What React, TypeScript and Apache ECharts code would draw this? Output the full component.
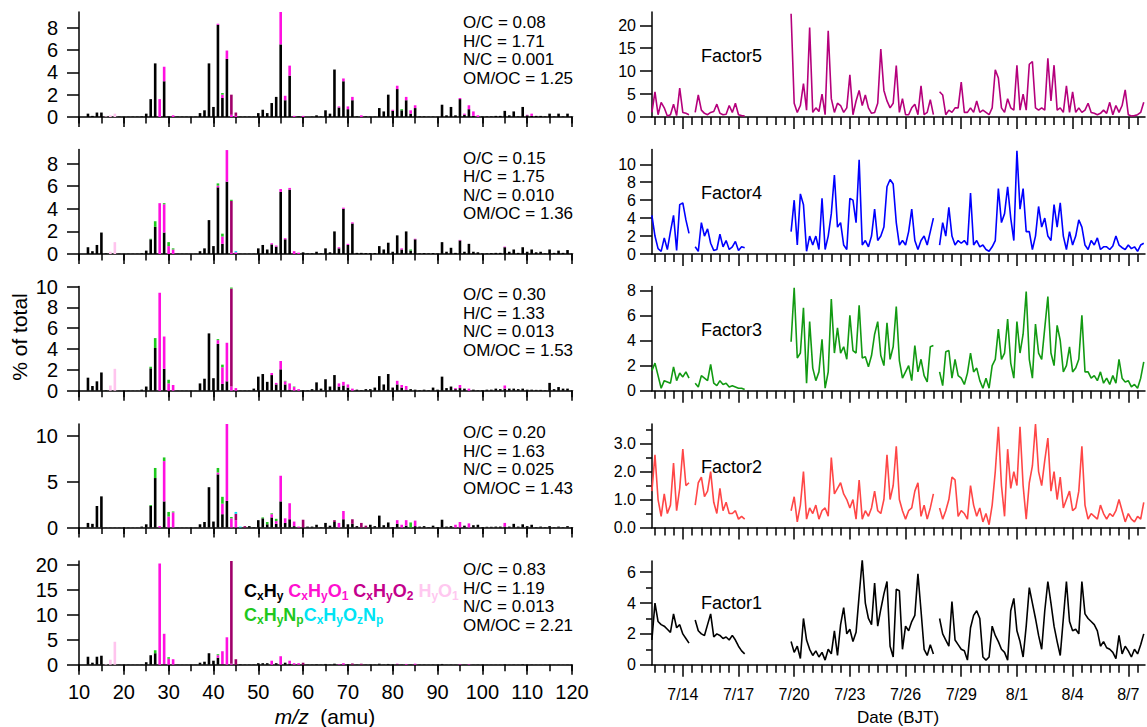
import React, { useEffect, useRef } from 'react';
import * as echarts from 'echarts';

const FONT = "'Liberation Sans', Arial, Helvetica, sans-serif";

// ---------- mass spectra (left column) ----------
const FAMILIES = ['CxHy', 'CxHyO1', 'CxHyO2', 'HyO1', 'CxHyNp', 'CxHyOzNp'];
const FAMILY_COLORS = ['#000000', '#ff10e0', '#a0006a', '#ffc4ee', '#1ec81e', '#00e4f4'];
const LEGEND_COLORS = ['#000000', '#ff10d0', '#c4008c', '#ffc8f0', '#1ec81e', '#00e4f4'];

// rows: [m/z, CxHy, CxHyO1, CxHyO2, HyO1, CxHyNp, CxHyOzNp]
const P1_ROWS = [[12,0.3],[13,0.1],[14,0.4],[15,0.4],[16,0,0,0,0.05],[17,0,0,0,0.15],[18,0,0,0,0.3],[19,0.03],[20,0.03],[21,0.03],[22,0.03],[23,0.03],[24,0.05],[25,0.3],[26,1.6],[27,4.8],[28,0,1.6],[29,3.2,1.3],[30,0.05],[31,0,0.15],[32,0.03],[33,0.03],[34,0.03],[35,0.03],[36,0.03],[37,0.35],[38,0.6],[39,4.8],[40,0.9],[41,8.25,0.1],[42,1.7,0.3,0,0,0.15],[43,5.2,0.75],[44,0,0.2,1.8],[45,0,0.1,0.3],[46,0.03],[47,0.03],[48,0.03],[49,0.03],[50,0.35],[51,0.65],[52,0.35],[53,1.25],[54,1.8],[55,6.5,2.9],[56,1.5,0.4],[57,3.7,0.9],[58,0,0.1],[59,0.05],[60,0,0.1],[62,0.03],[63,0.15],[64,0.05],[65,0.6],[66,0.3],[67,4.25],[68,0.85,0.1],[69,3.2,0.25],[70,0.7,0.25],[71,1.5,0.3],[72,0.05],[73,0,0.15],[74,0.05],[75,0.03],[76,0.03],[77,0.8],[78,0.5],[79,2.0],[80,0.55,0.1],[81,2.5,0.3],[82,0.6,0,0,0,0.1],[83,1.5,0.3],[84,0.3,0.3],[85,0.8,0.25],[86,0.05],[87,0.05],[88,0.03],[89,0.03],[90,0.03],[91,1.1],[92,0.15],[93,0.9],[94,0.15],[95,1.6,0.1],[96,0.2,0.1],[97,0.7,0.35],[98,0.1,0.4],[99,0,0.15],[100,0.05],[101,0.05],[102,0.05],[103,0.1],[104,0.1],[105,0.55],[106,0.15],[107,0.5],[108,0.05],[109,0.9],[110,0.15,0.05],[111,0.1,0.2],[112,0.1],[113,0.1],[114,0.05],[115,0.3],[116,0.05],[117,0.3],[118,0.05],[119,0.3],[120,0.05]];
const P2_ROWS = [[12,0.6],[13,0.25],[14,0.8],[15,1.9],[16,0.05],[17,0,0,0,0.2],[18,0,0,0,1.05],[19,0.02],[20,0.02],[21,0.02],[22,0.02],[23,0.02],[24,0.05],[25,0.3],[26,1.3,0,0,0,0.05],[27,2.4,0,0,0,0.5],[28,0,4.5],[29,1.9,2.5,0,0,0.1],[30,0,0.7,0,0,0.35],[31,0,0.4,0,0,0.1],[32,0.02],[33,0.02],[34,0.02],[35,0.02],[36,0.02],[37,0.25],[38,0.5],[39,3.0],[40,0.7],[41,5.9,0.15,0,0,0.2],[42,0.9,0.65,0,0,0.25],[43,6.4,2.8],[44,0,0.1,4.6,0,0.1],[45,0,0.15,0,0,0,0.1],[46,0.02],[47,0.02],[48,0.02],[49,0.02],[50,0.5],[51,0.8],[52,0.4],[53,0.85,0.1],[54,0.65,0.1],[55,5.5,0.25],[56,1.3,0.1],[57,5.7,0.15],[58,0,0.25],[59,0,0.12],[60,0.15],[61,0.05],[62,0.05],[63,0.2],[64,0.05],[65,0.5],[66,0.15],[67,2.0],[68,0.5,0.1],[69,4.0,0.1],[70,0.8,0.1],[71,2.7,0.1],[72,0.1],[73,0.1],[74,0.08],[75,0.08],[76,0.08],[77,0.7],[78,0.4],[79,1.0],[80,0.2],[81,1.65],[82,0.4,0.1],[83,2.0],[84,0.3,0,0,0,0.1],[85,1.3,0.05],[86,0.05],[87,0.08],[88,0.05],[89,0.08],[90,0.05],[91,1.05],[92,0.2],[93,0.55],[94,0.1],[95,1.2,0.05],[96,0.2],[97,0.9],[98,0.2],[99,0.15],[100,0.05],[101,0.05],[102,0.08],[103,0.1],[104,0.1],[105,0.6,0.05],[106,0.2],[107,0.4],[108,0.1],[109,0.6],[110,0.2],[111,0.4],[112,0.15],[113,0.2],[114,0.05],[115,0.4],[116,0.1],[117,0.3],[118,0.1],[119,0.35],[120,0.05]];
const P3_ROWS = [[12,1.25],[13,0.45],[14,0.9],[15,1.75],[16,0.05],[17,0,0,0,0.5],[18,0,0,0,2.1],[19,0.02],[20,0.02],[21,0.02],[22,0.02],[23,0.02],[24,0.1],[25,0.4],[26,2.15,0,0,0,0.15],[27,4.1,0,0,0,0.95],[28,0,9.4],[29,2.1,3.1],[30,0,0.7,0,0,0.35],[31,0,0.55],[32,0.02],[33,0.02],[34,0.02],[35,0.02],[36,0.02],[37,0.7],[38,1.15],[39,5.5],[40,1.2],[41,4.5,0.35,0,0,0.1],[42,0.65,1.6,0,0,0.25],[43,0.9,3.7],[44,0,0.4,9.4,0,0.1],[45,0,0.25],[46,0.03],[47,0.03],[48,0.03],[49,0.2],[50,1.35],[51,1.6],[52,0.85],[53,1.5,0.2],[54,0.6,0.15],[55,2.05,0.8],[56,0.6,0.3,0,0,0.05],[57,0.1,0.6],[58,0,0.35,0,0,0.05],[59,0,0.15],[60,0.05],[61,0.05],[62,0.15],[63,0.8],[64,0.2],[65,1.1],[66,0.4],[67,1.5],[68,0.4,0.3],[69,0.5,0.35],[70,0.3,0.3],[71,0,0.2],[72,0.1],[73,0.05],[74,0.15],[75,0.15],[76,0.3],[77,1.4],[78,0.6],[79,1.6],[80,0.3],[81,0.6,0.35],[82,0.3,0.25],[83,0.1,0.35],[84,0.15],[85,0.1],[86,0.05],[87,0.1],[88,0.05],[89,0.3],[90,0.1],[91,1.35],[92,0.25],[93,0.4],[94,0.15,0.1],[95,0.25,0.3],[96,0.2],[97,0,0.2],[98,0.1],[99,0.05],[100,0.05],[101,0.1],[102,0.1],[103,0.2],[104,0.15],[105,0.2,0.3],[106,0.2],[107,0.2],[108,0.15],[109,0.2],[110,0.1],[111,0.1],[112,0.08],[113,0.08],[114,0.05],[115,0.75],[116,0.15],[117,0.35],[118,0.2],[119,0.2],[120,0.05]];
const P4_ROWS = [[12,0.5],[13,0.4],[14,2.35],[15,3.4],[16,0.02],[17,0.02],[18,0.02],[19,0.02],[20,0.02],[21,0.02],[22,0.02],[23,0.02],[24,0.1],[25,0.35],[26,2.35,0,0,0,0.1],[27,5.4,0,0,0,1.1],[28,0,0.15],[29,2.85,4.4,0,0,0.4],[30,0,1.2,0,0,0.5],[31,0,1.65,0,0,0.1],[32,0.02],[33,0.02],[34,0.02],[35,0.02],[36,0.02],[37,0.35],[38,0.6],[39,4.4],[40,0.65],[41,5.8,0.2,0,0,0.5],[42,1.45,1.15,0,0,0.75],[43,2.9,8.6],[44,0,1.0,0,0,0.15],[45,0,0.8,0.7,0,0,0.2],[46,0,0,0,0,0,0.1],[47,0,0,0.15],[48,0.15],[49,0.05],[50,0.8],[51,1.0,0,0,0,0.1],[52,0.35,0,0,0,0.25],[53,1.1,0.35,0,0,0.1],[54,0.4,0.3,0,0,0.25],[55,2.85,2.8],[56,0.5,0.5],[57,0.9,1.75],[58,0.15,0.5],[59,0,0.1],[60,0,0,0.85],[61,0.1],[62,0.1],[63,0.3],[64,0.05],[65,0.5],[66,0.2],[67,0.6,0,0.2],[68,0,0.5],[69,0.9,0.9],[70,0.35],[71,0.4,0,0.5],[72,0.15],[73,0,0,0.5],[74,0,0,0.2],[75,0.3],[76,0.15],[77,1.3],[78,0.25],[79,0.55],[80,0.05],[81,0.4,0.4],[82,0,0.3],[83,0.2,0.6],[84,0,0,0,0,0.55],[85,0.15,0.6],[86,0.1],[87,0.15],[88,0.05],[89,0.2],[90,0.05],[91,0.85],[92,0.1],[93,0.15],[94,0,0.3],[95,0,0.6],[96,0.2],[97,0,0.45],[98,0.25],[99,0.3],[100,0.05],[101,0.08],[102,0.08],[103,0.1],[104,0.1],[105,0.1,0.4],[106,0.1],[107,0.4],[108,0.1],[109,0.35],[110,0.15],[111,0.3],[112,0.05],[113,0.1],[114,0.05],[115,0.15],[116,0.05],[117,0.1],[118,0.05],[119,0.15],[120,0.05]];
const P5_ROWS = [[12,1.6],[13,0.4],[14,1.6],[15,1.8],[16,0,0,0,0.1],[17,0,0,0,1.0],[18,0,0,0,4.6],[19,0.03],[20,0.03],[21,0.03],[22,0.03],[23,0.03],[24,0.05],[25,0.5],[26,1.9],[27,2.3,0,0,0,0.6],[28,0,20.3],[29,0.1,6.1],[30,0,1.2,0,0,0.3],[31,0,1.1],[32,0.03],[33,0.03],[34,0.03],[35,0.03],[36,0.03],[37,0.4],[38,0.6],[39,2.3],[40,0.8],[41,1.4,0.5,0,0,0.2],[42,0.1,2.6],[43,0,5.5],[44,0,0.2,20.8],[45,0,0,1.1],[46,0.1],[47,0.05],[48,0.05],[49,0.05],[50,0.3],[51,0.3],[52,0.3],[53,0,0.8],[54,0.3],[55,0,1.7],[56,0.4],[57,0.2,0.6],[58,0,0.3],[59,0,0.3],[60,0,0,0.4],[61,0.05],[62,0.05],[63,0.1],[64,0.05],[65,0.15],[66,0.05],[67,0.2],[68,0,0.1],[69,0,0.3],[70,0.1],[71,0,0,0.25],[72,0.05],[73,0,0,0.2],[74,0.05],[75,0.05],[76,0.05],[77,0.2],[78,0.05],[79,0.15],[80,0.05],[81,0.1,0.1],[82,0.05],[83,0,0.15],[84,0.05],[85,0,0.2],[86,0.05],[87,0.05],[88,0.03],[89,0.05],[90,0.03],[91,0.15],[92,0.03],[93,0.05],[94,0.03],[95,0,0.1],[96,0.03],[97,0,0.1],[98,0.03],[99,0.05],[100,0.03],[101,0.03],[102,0.03],[103,0.03],[104,0.03],[105,0.1],[106,0.03],[107,0.05],[108,0.03],[109,0.1],[110,0.03],[111,0.05],[112,0.03],[113,0.03],[114,0.03],[115,0.05],[116,0.03],[117,0.05],[118,0.03],[119,0.05],[120,0.03]];
const PANEL_ROWS = [P1_ROWS, P2_ROWS, P3_ROWS, P4_ROWS, P5_ROWS];
const PANEL_YMAX = [9.4, 9.25, 10.0, 11.3, 20.8];
const PANEL_YTICKS = [[0, 2, 4, 6, 8], [0, 2, 4, 6, 8], [0, 2, 4, 6, 8, 10], [0, 5, 10], [0, 5, 10, 15, 20]];
const PANEL_RATIOS = [
  ['O/C = 0.08', 'H/C = 1.71', 'N/C = 0.001', 'OM/OC = 1.25'],
  ['O/C = 0.15', 'H/C = 1.75', 'N/C = 0.010', 'OM/OC = 1.36'],
  ['O/C = 0.30', 'H/C = 1.33', 'N/C = 0.013', 'OM/OC = 1.53'],
  ['O/C = 0.20', 'H/C = 1.63', 'N/C = 0.025', 'OM/OC = 1.43'],
  ['O/C = 0.83', 'H/C = 1.19', 'N/C = 0.013', 'OM/OC = 2.21'],
];
const MZ_MIN = 10;
const MZ_MAX = 120;

// ---------- factor time series (right column) ----------
// time in days since 7/12 00:00 (BJT), 4-hour points
const STEP = 1 / 6;
const SEG_A_START = 1 / 3;   // 7/12 08:00
const SEG_B_START = 8 / 3;   // 7/14 16:00
const SEG_C_START = 47 / 6;  // 7/19 20:00

const F5_A = [1.0, 5.5, 0.5, 3.2, 2.0, 0.2, 0.5, 2.8, 0.3, 6.3, 1.0, 0.8, 0.5];
const F5_B = [1.0, 4.8, 1.5, 0.8, 0.5, 1.0, 1.2, 2.8, 0.8, 0.5, 0.6, 2.5, 1.0, 3.0, 0.5, 0.3, 0.2];
const F5_C = [22.5, 3.0, 1.0, 2.5, 7.3, 1.5, 19.5, 1.0, 2.0, 1.2, 5.0, 0.5, 18.8, 4.0, 1.0, 3.0, 2.5, 1.0, 2.0, 9.2, 0.5, 3.5, 5.8, 2.5, 4.8, 2.0, 0.8, 1.0, 3.0, 14.8, 5.8, 3.5, 2.0, 3.0, 11.2, 1.0, 4.0, 0.5, 0.5, 2.0, 2.8, 0.5, 6.8, 0.5, 1.0, 3.8, 0.5, null, 5.5, 4.8, 0.5, 1.5, 1.0, 2.0, 2.0, 7.6, 1.0, 1.0, 2.0, 1.0, 3.5, 1.0, 1.5, 1.0, 0.5, 2.0, 10.3, 8.5, 2.0, 1.0, 4.0, 2.0, 1.5, 11.3, 1.5, 5.0, 1.5, 11.5, 12.1, 2.0, 1.5, 2.0, 1.5, 12.8, 3.5, 11.3, 1.5, 2.0, 1.0, 6.8, 1.0, 5.5, 1.0, 2.0, 1.0, 1.5, 3.0, 1.0, 0.8, 0.5, 0.8, 1.5, 0.8, 3.2, 0.5, 2.5, 1.0, 2.5, 5.9, 0.5, 0.2, 0.3, 0.5, 1.0, 3.2];
const F4_A = [4.3, 2.0, 0.6, 0.3, 1.8, 0.5, 2.5, 4.3, 0.4, 5.5, 5.7, 3.8, 2.3];
const F4_B = [0.8, 0.3, 3.5, 2.0, 2.8, 1.2, 0.4, 0.5, 2.2, 0.8, 1.5, 0.5, 0.8, 1.4, 0.4, 0.8, 0.7];
const F4_C = [2.5, 6.0, 1.0, 6.7, 5.5, 0.3, 2.0, 1.0, 2.0, 0.5, 6.2, 0.5, 2.0, 4.5, 8.8, 3.0, 3.5, 1.0, 0.5, 6.2, 6.0, 3.5, 10.5, 1.0, 1.5, 0.8, 2.0, 5.0, 1.5, 2.0, 3.0, 7.5, 8.3, 7.8, 3.5, 1.0, 1.5, 1.0, 2.5, 5.0, 1.5, 0.5, 1.5, 2.0, 1.0, 2.5, 4.0, null, 1.0, 3.5, 2.0, 5.2, 2.0, 1.0, 1.5, 1.2, 1.5, 1.0, 6.8, 1.0, 1.5, 0.8, 1.0, 0.5, 0.3, 0.8, 1.5, 7.3, 3.5, 4.5, 7.5, 4.0, 1.5, 11.5, 5.0, 7.3, 2.5, 2.5, 0.5, 2.0, 5.3, 3.0, 4.0, 2.0, 1.5, 5.5, 3.0, 5.7, 2.0, 0.5, 2.5, 1.0, 2.0, 3.8, 3.0, 1.0, 0.5, 1.5, 1.0, 1.8, 0.5, 0.8, 0.8, 0.5, 0.9, 2.0, 1.0, 0.7, 0.5, 1.0, 0.6, 0.8, 0.3, 1.0, 1.2];
const F3_A = [1.6, 2.2, 1.2, 0.2, 0.8, 0.7, 0.6, 1.9, 0.8, 1.4, 1.1, 1.5, 1.0];
const F3_B = [0.6, 0.3, 1.2, 1.0, 0.8, 2.1, 0.6, 0.4, 0.8, 0.5, 0.6, 0.3, 0.4, 0.3, 0.2, 0.2, 0.1];
const F3_C = [3.9, 8.2, 2.6, 3.0, 6.6, 0.6, 5.5, 1.8, 0.8, 1.5, 4.1, 0.2, 1.5, 7.3, 3.0, 5.0, 3.0, 3.5, 2.5, 6.0, 3.2, 3.0, 6.8, 2.6, 2.7, 1.9, 2.8, 4.5, 5.5, 2.8, 2.0, 5.4, 2.5, 3.5, 6.7, 2.4, 1.0, 1.5, 2.0, 0.8, 3.6, 1.5, 2.5, 1.2, 0.7, 3.5, 3.6, null, 1.5, 0.4, 3.1, 3.2, 1.0, 2.5, 1.2, 1.0, 0.5, 1.4, 3.0, 1.5, 1.8, 0.8, 0.2, 1.0, 0.2, 2.0, 2.5, 4.9, 2.5, 3.0, 5.7, 2.2, 1.0, 5.5, 3.0, 4.5, 7.9, 2.5, 1.0, 5.3, 3.0, 2.5, 5.0, 7.5, 3.0, 2.0, 5.2, 4.0, 1.5, 2.0, 3.5, 1.5, 1.8, 2.5, 6.0, 1.5, 1.5, 1.0, 1.2, 0.8, 1.5, 0.6, 1.0, 0.5, 1.2, 0.6, 2.5, 1.0, 0.7, 0.8, 0.3, 0.5, 0.2, 1.0, 2.3];
const F2_A = [1.3, 2.6, 1.0, 0.4, 1.2, 0.5, 0.8, 2.3, 0.6, 1.4, 2.8, 1.5, 1.6];
const F2_B = [0.8, 1.6, 1.8, 1.1, 1.3, 2.0, 0.9, 0.5, 1.4, 0.6, 0.9, 0.5, 0.5, 0.6, 0.3, 0.4, 0.3];
const F2_C = [0.6, 1.1, 0.2, 0.8, 2.0, 0.3, 0.7, 0.5, 0.8, 0.3, 0.6, 0.7, 0.4, 2.5, 1.2, 1.4, 1.6, 1.2, 1.0, 0.7, 1.0, 0.3, 1.7, 0.3, 0.6, 0.4, 0.7, 1.3, 0.6, 0.5, 1.0, 2.6, 1.0, 1.5, 2.9, 1.0, 0.6, 0.3, 0.6, 0.7, 1.3, 1.6, 0.4, 0.8, 0.3, 0.7, 1.2, null, 0.7, 0.3, 0.6, 1.0, 1.8, 1.7, 0.4, 0.6, 0.5, 0.3, 1.5, 0.8, 0.4, 0.7, 0.2, 0.5, 0.1, 0.8, 2.0, 3.6, 1.5, 0.4, 2.8, 1.4, 2.0, 1.5, 3.6, 1.5, 0.3, 1.6, 2.2, 3.7, 2.0, 1.5, 2.4, 3.2, 1.3, 2.0, 1.0, 1.8, 0.7, 1.0, 1.3, 0.6, 0.7, 1.3, 2.9, 0.8, 0.3, 0.5, 0.4, 0.3, 0.8, 0.5, 0.3, 0.5, 0.4, 0.6, 1.0, 0.6, 0.2, 0.5, 0.3, 0.2, 0.4, 0.3, 0.9];
const F1_A = [1.6, 4.0, 2.8, 2.6, 2.5, 2.3, 2.1, 3.3, 2.4, 2.6, 2.0, 1.7, 1.4];
const F1_B = [2.9, 2.2, 2.0, 1.9, 2.6, 3.3, 1.8, 2.0, 1.9, 1.7, 1.8, 1.6, 1.9, 1.6, 1.2, 0.9, 0.7];
const F1_C = [1.5, 0.8, 1.2, 0.4, 3.0, 1.6, 1.0, 0.6, 0.9, 0.5, 0.8, 0.3, 1.0, 0.7, 2.2, 0.6, 2.6, 3.7, 2.0, 2.3, 1.5, 2.1, 4.5, 6.8, 4.0, 3.0, 2.6, 5.3, 2.5, 3.6, 4.6, 5.4, 1.2, 0.5, 4.9, 4.8, 1.0, 2.5, 2.2, 2.8, 3.2, 5.9, 3.5, 1.0, 0.6, 1.3, 0.7, null, 3.0, 2.0, 1.6, 1.2, 4.1, 1.6, 1.3, 1.0, 0.9, 0.3, 2.4, 3.2, 3.5, 3.0, 0.5, 0.3, 0.5, 2.5, 1.9, 1.5, 1.0, 0.8, 0.3, 3.5, 4.3, 2.2, 1.5, 0.5, 2.5, 5.0, 4.0, 3.0, 1.9, 1.0, 3.5, 5.4, 4.0, 2.5, 1.5, 0.6, 3.0, 5.4, 2.8, 2.2, 2.3, 2.0, 5.4, 3.3, 3.0, 2.8, 2.6, 2.2, 1.2, 1.5, 1.1, 1.0, 0.8, 0.4, 1.9, 0.7, 1.2, 0.9, 0.5, 1.0, 0.7, 1.3, 2.0];

const FACTOR_NAMES = ['Factor5', 'Factor4', 'Factor3', 'Factor2', 'Factor1'];
const FACTOR_SEGMENTS = [[F5_A, F5_B, F5_C], [F4_A, F4_B, F4_C], [F3_A, F3_B, F3_C], [F2_A, F2_B, F2_C], [F1_A, F1_B, F1_C]];
const FACTOR_COLORS = ['#b5007c', '#0000ff', '#129a12', '#ff4646', '#000000'];
const FACTOR_YMAX = [22.9, 11.65, 8.3, 3.7, 6.73];
const FACTOR_YTICKS = [[0, 5, 10, 15, 20], [0, 2, 4, 6, 8, 10], [0, 2, 4, 6, 8], [0, 1, 2, 3], [0, 2, 4, 6]];
const FACTOR_YMINOR = [[], [], [], [0.5, 1.5, 2.5, 3.5], [1, 3, 5]];
const DATE_TICKS = [2, 5, 8, 11, 14, 17, 20, 23, 26];
const DATE_LABELS = ['7/14', '7/17', '7/20', '7/23', '7/26', '7/29', '8/1', '8/4', '8/7'];
const DAY_MIN = 0.34;
const DAY_MAX = 26.9;

// ---------- layout ----------
const ROW_TOP = [12, 149.5, 286.5, 424, 561];
const ROW_BOTTOM = [117, 254, 390.7, 527.5, 664.7];
const LEFT_X = 79;
const RIGHT_X = 652;
const PLOT_W = 493;

const AX_LINE = { show: true, onZero: false, lineStyle: { color: '#000', width: 1.5 } };
const TICK_STYLE = { color: '#000', width: 1.5 };

function buildTimeSeries(segs: (number | null)[][]) {
  const starts = [SEG_A_START, SEG_B_START, SEG_C_START];
  const out: any[] = [];
  segs.forEach((seg, s) => {
    seg.forEach((v, i) => out.push([starts[s] + i * STEP, v]));
    if (s < segs.length - 1) out.push([starts[s] + seg.length * STEP, null]);
  });
  return out;
}

function buildOption() {
  const grid: any[] = [];
  const xAxis: any[] = [];
  const yAxis: any[] = [];
  const series: any[] = [];
  const graphic: any[] = [];

  const mzCats: string[] = [];
  for (let m = MZ_MIN; m <= MZ_MAX; m++) mzCats.push(String(m));

  const minorDays: number[] = [];
  for (let k = 1; k <= 53; k++) {
    const d = k * 0.5;
    if (!DATE_TICKS.includes(d)) minorDays.push(d);
  }

  // left column
  for (let r = 0; r < 5; r++) {
    const g = grid.length;
    grid.push({ left: LEFT_X, width: PLOT_W, top: ROW_TOP[r], height: ROW_BOTTOM[r] - ROW_TOP[r], outerBoundsMode: 'none', containLabel: false });
    const xi = xAxis.length;
    xAxis.push({
      gridIndex: g, type: 'category', data: mzCats, boundaryGap: false, position: 'bottom', offset: 0,
      axisLine: AX_LINE,
      axisTick: { show: true, interval: 9, length: 10, lineStyle: TICK_STYLE },
      axisLabel: { show: r === 4, interval: 9, fontSize: 20, fontFamily: FONT, color: '#000', margin: 17 },
      splitLine: { show: false },
    });
    xAxis.push({
      gridIndex: g, type: 'category', data: mzCats, boundaryGap: false, position: 'bottom', offset: 0,
      axisLine: { show: false },
      axisTick: { show: true, interval: 4, length: 6.5, lineStyle: TICK_STYLE },
      axisLabel: { show: false },
      splitLine: { show: false },
    });
    const yi = yAxis.length;
    yAxis.push({
      gridIndex: g, type: 'value', min: 0, max: PANEL_YMAX[r], position: 'left', offset: 0,
      axisLine: AX_LINE,
      axisTick: { show: true, length: 12, customValues: PANEL_YTICKS[r], lineStyle: TICK_STYLE },
      axisLabel: { customValues: PANEL_YTICKS[r], fontSize: 20, fontFamily: FONT, color: '#000', margin: 21 },
      splitLine: { show: false },
    });
    const rows = PANEL_ROWS[r];
    FAMILIES.forEach((fam, f) => {
      const dense = mzCats.map(() => 0);
      rows.forEach((row) => { dense[row[0] - MZ_MIN] = row[f + 1] ?? 0; });
      series.push({
        type: 'bar', name: fam, xAxisIndex: xi, yAxisIndex: yi, stack: 'ms' + r,
        barWidth: 2.6, silent: true,
        itemStyle: { color: FAMILY_COLORS[f] },
        data: dense,
      });
    });
    graphic.push({
      type: 'text', x: 463, y: [13.4, 149, 285.7, 423.4, 560.7][r],
      style: {
        text: PANEL_RATIOS[r].join('\n'), fontSize: 17, fontFamily: FONT, fill: '#000', lineHeight: 18.5,
        align: 'left', verticalAlign: 'top', textAlign: 'left', textVerticalAlign: 'top',
      },
    });
  }

  // right column
  for (let r = 0; r < 5; r++) {
    const g = grid.length;
    grid.push({ left: RIGHT_X, width: PLOT_W, top: ROW_TOP[r], height: ROW_BOTTOM[r] - ROW_TOP[r], outerBoundsMode: 'none', containLabel: false });
    const xi = xAxis.length;
    xAxis.push({
      gridIndex: g, type: 'value', min: DAY_MIN, max: DAY_MAX, position: 'bottom', offset: 0,
      axisLine: AX_LINE,
      axisTick: { show: true, length: 12, customValues: DATE_TICKS, lineStyle: TICK_STYLE },
      axisLabel: {
        show: r === 4, customValues: DATE_TICKS, fontSize: 16, fontFamily: FONT, color: '#000', margin: 22,
        formatter: (v: number) => {
          const i = DATE_TICKS.findIndex((d) => Math.abs(d - v) < 1e-6);
          return i >= 0 ? DATE_LABELS[i] : '';
        },
      },
      splitLine: { show: false },
    });
    xAxis.push({
      gridIndex: g, type: 'value', min: DAY_MIN, max: DAY_MAX, position: 'bottom', offset: 0,
      axisLine: { show: false, onZero: false },
      axisTick: { show: true, length: 8, customValues: minorDays, lineStyle: TICK_STYLE },
      axisLabel: { show: false },
      splitLine: { show: false },
    });
    const yi = yAxis.length;
    yAxis.push({
      gridIndex: g, type: 'value', min: 0, max: FACTOR_YMAX[r], position: 'left', offset: 0,
      axisLine: AX_LINE,
      axisTick: { show: true, length: 12, customValues: FACTOR_YTICKS[r], lineStyle: TICK_STYLE },
      axisLabel: {
        customValues: FACTOR_YTICKS[r], fontSize: 16, fontFamily: FONT, color: '#000', margin: 16,
        formatter: (v: number) => (r === 3 ? v.toFixed(1) : String(v)),
      },
      splitLine: { show: false },
    });
    if (FACTOR_YMINOR[r].length) {
      yAxis.push({
        gridIndex: g, type: 'value', min: 0, max: FACTOR_YMAX[r], position: 'left', offset: 0,
        axisLine: { show: false, onZero: false },
        axisTick: { show: true, length: 6, customValues: FACTOR_YMINOR[r], lineStyle: TICK_STYLE },
        axisLabel: { show: false },
        splitLine: { show: false },
      });
    }
    series.push({
      type: 'line', name: FACTOR_NAMES[r], xAxisIndex: xi, yAxisIndex: yi,
      data: buildTimeSeries(FACTOR_SEGMENTS[r]),
      showSymbol: false, symbol: 'none', connectNulls: false, silent: true,
      lineStyle: { color: FACTOR_COLORS[r], width: 1.6 },
      itemStyle: { color: FACTOR_COLORS[r] },
    });
    graphic.push({
      type: 'text', x: 701, y: [56, 193, 330, 466.7, 603.3][r],
      style: {
        text: FACTOR_NAMES[r], fontSize: 18, fontFamily: FONT, fill: '#000',
        align: 'left', verticalAlign: 'middle', textAlign: 'left', textVerticalAlign: 'middle',
      },
    });
  }

  // legend (rich text with subscripts)
  const keys = ['k', 'm', 'p', 'l', 'g', 'c'];
  const rich: any = {};
  keys.forEach((k, i) => {
    rich[k] = { fill: LEGEND_COLORS[i], fontSize: 18, fontWeight: 'bold', fontFamily: FONT, lineHeight: 22 };
    rich[k + 's'] = { fill: LEGEND_COLORS[i], fontSize: 12, fontWeight: 'bold', fontFamily: FONT, lineHeight: 22, padding: [10, 0, 0, 0] };
  });
  const line1 = '{k|C}{ks|x}{k|H}{ks|y}{k| }{m|C}{ms|x}{m|H}{ms|y}{m|O}{ms|1}{m| }{p|C}{ps|x}{p|H}{ps|y}{p|O}{ps|2}{p| }{l|H}{ls|y}{l|O}{ls|1}';
  const line2 = '{g|C}{gs|x}{g|H}{gs|y}{g|N}{gs|p}{c|C}{cs|x}{c|H}{cs|y}{c|O}{cs|z}{c|N}{cs|p}';
  [line1, line2].forEach((t, i) => {
    graphic.push({
      type: 'text', x: 244, y: 591 + i * 24, z: 10,
      style: { text: t, rich, fontSize: 18, fontFamily: FONT, align: 'left', verticalAlign: 'middle', textAlign: 'left', textVerticalAlign: 'middle' },
    });
  });

  graphic.push({
    type: 'text', x: 19, y: 337, rotation: Math.PI / 2,
    style: { text: '% of total', fontSize: 21, fontFamily: FONT, fill: '#000', align: 'center', verticalAlign: 'middle', textAlign: 'center', textVerticalAlign: 'middle' },
  });
  graphic.push({
    type: 'text', x: 325, y: 716.5,
    style: {
      text: '{i|m/z}{n|  (amu)}', fontSize: 21, fontFamily: FONT, align: 'center', verticalAlign: 'middle', textAlign: 'center', textVerticalAlign: 'middle',
      rich: {
        i: { fontSize: 21, fontFamily: FONT, fontStyle: 'italic', fill: '#000' },
        n: { fontSize: 21, fontFamily: FONT, fill: '#000' },
      },
    },
  });
  graphic.push({
    type: 'text', x: 898, y: 717,
    style: { text: 'Date (BJT)', fontSize: 17, fontFamily: FONT, fill: '#000', align: 'center', verticalAlign: 'middle', textAlign: 'center', textVerticalAlign: 'middle' },
  });

  return {
    animation: false,
    backgroundColor: '#ffffff',
    textStyle: { fontFamily: FONT },
    grid, xAxis, yAxis, series, graphic,
  };
}

export default function App() {
  const ref = useRef<HTMLDivElement>(null);
  useEffect(() => {
    document.body.style.margin = '0';
    const chart = echarts.init(ref.current as HTMLDivElement, null, { renderer: 'svg' });
    chart.setOption(buildOption() as any);
    return () => chart.dispose();
  }, []);
  return <div ref={ref} style={{ width: 1147, height: 727 }} />;
}
